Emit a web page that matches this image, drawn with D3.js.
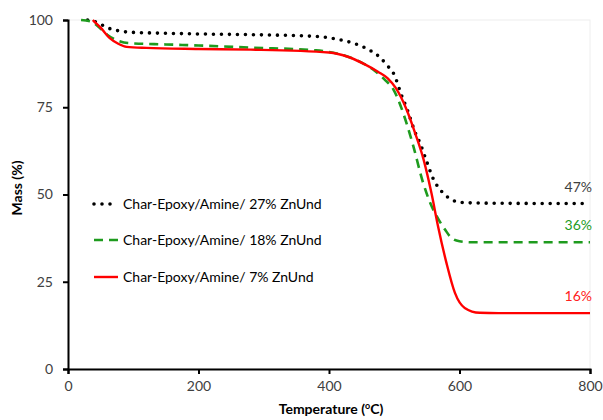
<!DOCTYPE html>
<html>
<head>
<meta charset="utf-8">
<script src="https://cdn.jsdelivr.net/npm/d3@7"></script>
<style>
  html, body { margin: 0; padding: 0; background: #fff; }
  svg { display: block; font-family: Lato, "Open Sans", sans-serif; }
</style>
</head>
<body>
<svg id="chart" width="603" height="420"></svg>
<script>
// TGA mass-loss curves: [temperature °C, mass %]
const zn27 = [[30,100],[45,99.3],[60,97.8],[75,97.0],[95,96.5],[150,96.2],[200,96.0],[280,95.8],[380,95.3],[420,94.2],[440,93.2],[460,91.6],[478,89.3],[490,86.8],[500,84.3],[511,78.5],[520,74.3],[532,67.8],[540,64.5],[550,59.3],[560,54.4],[572,51.0],[588,48.5],[603,47.7],[650,47.5],[800,47.4]];
const zn18 = [[20,100],[35,99.6],[50,97.5],[60,95.8],[75,94.2],[92,93.4],[150,93.0],[200,92.7],[280,92.1],[380,91.3],[420,90.0],[450,87.8],[470,85.5],[485,83.0],[499,80.0],[517,71.5],[529,64.0],[544,53.5],[556,47.2],[565,43.8],[578,39.9],[588,37.5],[600,36.6],[620,36.3],[800,36.3]];
const zn7  = [[38,100],[50,97.8],[64,94.8],[77,93.2],[90,92.3],[120,92.0],[200,91.7],[280,91.5],[400,90.7],[430,89.4],[455,87.3],[475,85.2],[490,83.3],[502,80.6],[519,74.3],[532,67.6],[545,60.0],[557,50.4],[567,41.0],[580,30.4],[593,21.8],[608,17.5],[631,16.1],[660,16.0],[800,16.0]];

const seriesNames = ["Char-Epoxy/Amine/ 27% ZnUnd", "Char-Epoxy/Amine/ 18% ZnUnd", "Char-Epoxy/Amine/ 7% ZnUnd"];
const residueLabels = ["47%", "36%", "16%"];
const residueValues = [47.4, 36.3, 16.0];
const xTicks = [0, 200, 400, 600, 800];
const yTicks = [0, 25, 50, 75, 100];

const styles = [
  { color: "#000000", width: 3.6, dash: "0,8", cap: "round", labelColor: "#404040" },
  { color: "#1e9b1e", width: 2.6, dash: "9,6", cap: "butt", labelColor: "#1e9b1e" },
  { color: "#ff0000", width: 2.4, dash: null, cap: "butt", labelColor: "#ff2020" }
];

const svg = d3.select("#chart");
const x = d3.scaleLinear().domain([0, 800]).range([68, 590]);
const y = d3.scaleLinear().domain([0, 100]).range([369, 20]);

// faint plot-area frame
svg.append("rect")
  .attr("x", x(0)).attr("y", y(100))
  .attr("width", x(800) - x(0)).attr("height", y(0) - y(100))
  .attr("fill", "none").attr("stroke", "#eeeeee").attr("stroke-width", 1);

const line = d3.line()
  .x(d => x(d[0])).y(d => y(d[1]))
  .curve(d3.curveMonotoneX);

[zn27, zn18, zn7].forEach((data, i) => {
  const s = styles[i];
  svg.append("path")
    .datum(data)
    .attr("d", line)
    .attr("fill", "none")
    .attr("stroke", s.color)
    .attr("stroke-width", s.width)
    .attr("stroke-linecap", s.cap)
    .attr("stroke-dasharray", s.dash);
});

// axes
const xAxis = svg.append("g")
  .attr("transform", `translate(0,${y(0)})`)
  .call(d3.axisBottom(x).tickValues(xTicks).tickSize(5).tickPadding(7).tickFormat(d3.format("d")));
const yAxis = svg.append("g")
  .attr("transform", `translate(${x(0)},0)`)
  .call(d3.axisLeft(y).tickValues(yTicks).tickSize(5).tickPadding(10).tickFormat(d3.format("d")));

[xAxis, yAxis].forEach(g => {
  g.select(".domain").attr("stroke", "#000").attr("stroke-width", 2);
  g.selectAll(".tick line").attr("stroke", "#000").attr("stroke-width", 2);
  g.selectAll(".tick text").attr("fill", "#404040").attr("font-size", 14)
    .attr("font-family", "Lato, 'Open Sans', sans-serif");
});

// axis titles
const xt = svg.append("text")
  .attr("x", 331).attr("y", 414)
  .attr("text-anchor", "middle")
  .attr("font-size", 14).attr("font-weight", "bold").attr("fill", "#000");
xt.append("tspan").text("Temperature (");
xt.append("tspan").text("o").attr("font-size", 9).attr("dy", -5);
xt.append("tspan").text("C)").attr("dy", 5);

svg.append("text")
  .attr("transform", `translate(22,${188}) rotate(-90)`)
  .attr("text-anchor", "middle")
  .attr("font-size", 14).attr("font-weight", "bold").attr("fill", "#000")
  .text("Mass (%)");

// residue labels at the right end
residueLabels.forEach((lab, i) => {
  svg.append("text")
    .attr("x", 592).attr("y", y(residueValues[i]) - 12)
    .attr("text-anchor", "end")
    .attr("font-size", 14).attr("fill", styles[i].labelColor)
    .text(lab);
});

// legend
const legendY = [204, 240, 277];
seriesNames.forEach((name, i) => {
  const s = styles[i];
  svg.append("line")
    .attr("x1", 94).attr("x2", 118)
    .attr("y1", legendY[i]).attr("y2", legendY[i])
    .attr("stroke", s.color)
    .attr("stroke-width", s.width)
    .attr("stroke-linecap", s.cap)
    .attr("stroke-dasharray", s.dash);
  svg.append("text")
    .attr("x", 123).attr("y", legendY[i] + 5)
    .attr("font-size", 14).attr("fill", "#000")
    .text(name);
});
</script>
</body>
</html>
